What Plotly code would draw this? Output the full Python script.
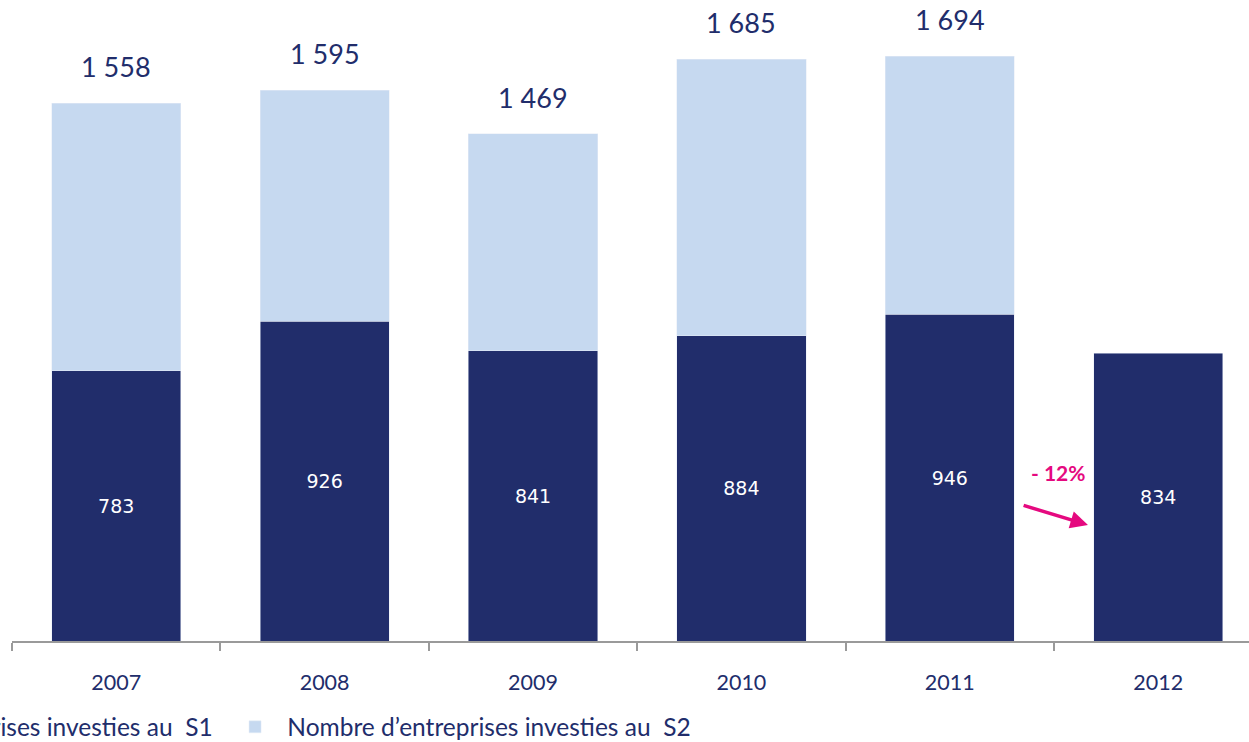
import plotly.graph_objects as go

years = [2007, 2008, 2009, 2010, 2011, 2012]
s1 = [783, 926, 841, 884, 946, 834]
totals = [1558, 1595, 1469, 1685, 1694, None]
s2 = [t - a if t is not None else None for t, a in zip(totals, s1)]
tick_labels = [str(y) for y in years]
name_s1 = "\u2002Nombre d\u2019entreprises investies au  S1"
name_s2 = "\u2002Nombre d\u2019entreprises investies au  S2"

navy = "#212D6B"
light = "#C6D9F0"
pink = "#E5097F"
font_main = "Lato, 'Open Sans', sans-serif"

fig = go.Figure()
fig.add_trace(go.Bar(
    x=years, y=s1, name=name_s1, marker_color=navy, width=0.62,
    text=[str(v) for v in s1], textposition="inside", insidetextanchor="middle",
    textfont=dict(color="white", size=19, family="DejaVu Sans, sans-serif"),
    constraintext="none", hoverinfo="skip",
))
fig.add_trace(go.Bar(
    x=years, y=s2, name=name_s2, marker_color=light, width=0.62,
    hoverinfo="skip",
))

for yr, t in zip(years, totals):
    if t is None:
        continue
    fig.add_annotation(
        x=yr, y=t, text=f"{t // 1000}\u00a0{t % 1000:03d}", showarrow=False,
        yanchor="bottom", yshift=18,
        font=dict(size=27, color=navy, family=font_main),
    )

# -12% arrow annotation
fig.add_annotation(
    x=2011.663, y=336, ax=2011.347, ay=394, xref="x", yref="y", axref="x", ayref="y",
    showarrow=True, arrowhead=2, arrowsize=1.0, arrowwidth=3.5, arrowcolor=pink, text="",
)
fig.add_annotation(
    x=2011.52, y=487, text="<b>- 12%</b>", showarrow=False,
    font=dict(size=21, color=pink, family=font_main),
)

fig.update_layout(
    width=1249, height=742,
    margin=dict(l=12, r=0, t=0, b=101, autoexpand=False),
    barmode="stack",
    paper_bgcolor="white", plot_bgcolor="white",
    showlegend=True,
    legend=dict(
        orientation="h", x=-0.2061, xanchor="left", y=-0.134, yanchor="middle",
        font=dict(size=24.5, color=navy, family=font_main),
        traceorder="normal",
        entrywidth=433, entrywidthmode="pixels",
    ),
    xaxis=dict(
        range=[2006.5, 2006.5 + 1237 / 208.4],
        tickvals=years, ticktext=tick_labels, ticks="",
        ticklabelstandoff=21,
        tickfont=dict(size=21.5, color=navy, family=font_main),
        showline=True, linecolor="#9A9A9A", linewidth=1.5,
        showgrid=False, zeroline=False,
        minor=dict(tickvals=[y - 0.5 for y in years] + [years[-1] + 0.5],
                   ticks="outside", ticklen=8, tickcolor="#9A9A9A", tickwidth=1.5,
                   showgrid=False),
    ),
    yaxis=dict(range=[0, 641 / 0.3453], visible=False, showgrid=False),
)

fig.write_html("out.html")
